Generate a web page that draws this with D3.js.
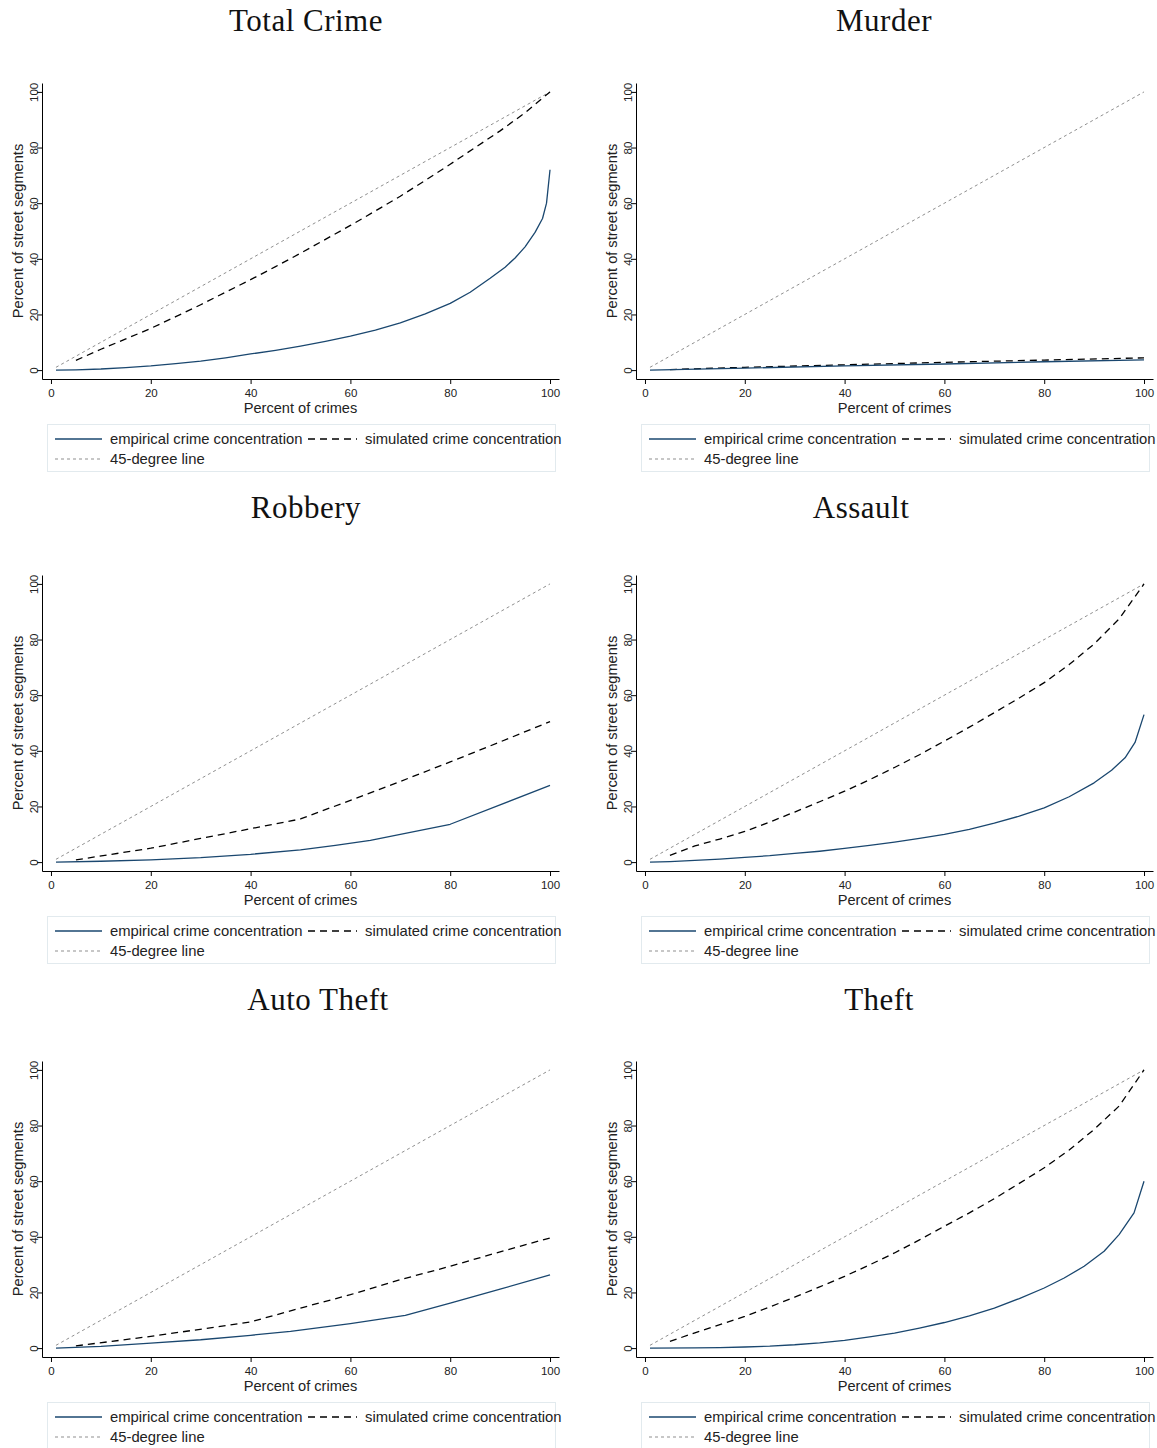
<!DOCTYPE html>
<html lang="en">
<head>
    <meta charset="UTF-8">
    <title>Crime concentration curves</title>
    <script src="https://d3js.org/d3.v7.min.js"></script>
    <style>
        body { margin: 0; background: #fff; }
        svg { display: block; }
        .axis text { font-family: "Liberation Sans", Arial, sans-serif; font-size: 11.5px; fill: #222; }
        .axis path, .axis line { stroke: #000; stroke-width: 1; }
        .axis-title { font-family: "Liberation Sans", Arial, sans-serif; font-size: 14.6px; fill: #222; }
        .panel-title { font-family: "Liberation Serif", "Times New Roman", serif; font-size: 31px; letter-spacing: 0.5px; fill: #111; }
        .legend-text { font-family: "Liberation Sans", Arial, sans-serif; font-size: 14.8px; fill: #222; }
    </style>
</head>
<body>
<div id="chart"></div>
<script>
    // panel titles
    const titles = ["Total Crime", "Murder", "Robbery", "Assault", "Auto Theft", "Theft"];
    const xTicks = [0, 20, 40, 60, 80, 100];
    const yTicks = [0, 20, 40, 60, 80, 100];

    // 45-degree reference line
    const degX = [1, 100];
    const degY = [1, 100];

    // Total Crime
    const totalEmpX = [1, 5, 10, 15, 20, 25, 30, 35, 40, 45, 50, 55, 60, 65, 70, 75, 80, 84, 88, 91, 93, 95, 97, 98.5, 99.3, 100];
    const totalEmpY = [0, 0.1, 0.4, 0.9, 1.5, 2.3, 3.2, 4.4, 5.8, 7.1, 8.6, 10.3, 12.2, 14.4, 17, 20.2, 24, 28, 33, 37, 40.3, 44.3, 49.5, 54.5, 60, 72];
    const totalSimX = [5, 10, 15, 20, 25, 30, 35, 40, 45, 50, 55, 60, 65, 70, 75, 80, 85, 90, 95, 100];
    const totalSimY = [3.5, 7.5, 11.2, 15, 19.2, 23.5, 28, 32.5, 37.2, 42, 47, 52, 57.2, 62.5, 68.2, 74, 80, 86, 92.5, 100];

    // Murder
    const murderEmpX = [1, 20, 40, 60, 80, 100];
    const murderEmpY = [0, 0.7, 1.5, 2.2, 3.0, 3.7];
    const murderSimX = [5, 20, 40, 60, 80, 100];
    const murderSimY = [0.2, 1.0, 1.9, 2.8, 3.6, 4.4];

    // Robbery
    const robberyEmpX = [1, 10, 20, 30, 40, 50, 57, 64, 80, 100];
    const robberyEmpY = [0, 0.3, 0.8, 1.6, 2.8, 4.4, 6, 7.8, 13.6, 27.6];
    const robberySimX = [5, 20, 30, 40, 50, 60, 70, 80, 90, 100];
    const robberySimY = [0.8, 5, 8.5, 12, 15.5, 22.2, 29, 36, 43.2, 50.5];

    // Assault
    const assaultEmpX = [1, 5, 10, 15, 20, 25, 30, 35, 40, 45, 50, 55, 60, 65, 70, 75, 80, 85, 90, 93.5, 96.2, 98.2, 100];
    const assaultEmpY = [0, 0.2, 0.6, 1.1, 1.7, 2.3, 3.1, 3.9, 4.9, 6, 7.2, 8.5, 10, 11.8, 14, 16.5, 19.5, 23.5, 28.5, 33, 37.5, 43, 53];
    const assaultSimX = [5, 10, 15, 20, 25, 30, 35, 40, 45, 50, 55, 60, 65, 70, 75, 80, 85, 90, 95, 100];
    const assaultSimY = [2.4, 5.8, 8.3, 11, 14.4, 18, 21.7, 25.5, 29.6, 34, 38.6, 43.5, 48.5, 53.7, 59, 64.5, 71, 78.4, 87.4, 100];

    // Auto Theft
    const autoEmpX = [1, 10, 20, 30, 40, 48, 60, 71, 80, 90, 100];
    const autoEmpY = [0, 0.6, 1.8, 3, 4.6, 6, 8.8, 11.8, 16.2, 21.2, 26.3];
    const autoSimX = [5, 20, 40, 50, 60, 70, 80, 90, 100];
    const autoSimY = [0.8, 4.2, 9.4, 14.4, 19.2, 24.6, 29.4, 34.6, 39.6];

    // Theft
    const theftEmpX = [1, 10, 15, 20, 25, 30, 35, 40, 45, 50, 55, 60, 65, 70, 75, 80, 84, 88, 92, 95, 98, 100];
    const theftEmpY = [0, 0.1, 0.2, 0.4, 0.7, 1.2, 1.9, 2.8, 4, 5.4, 7.2, 9.2, 11.6, 14.4, 17.8, 21.6, 25.2, 29.4, 34.8, 40.8, 48.6, 60];
    const theftSimX = [5, 10, 15, 20, 25, 30, 35, 40, 45, 50, 55, 60, 65, 70, 75, 80, 85, 90, 95, 100];
    const theftSimY = [2.4, 5.5, 8.4, 11.4, 14.8, 18.3, 22, 25.8, 29.9, 34.2, 38.9, 43.8, 48.6, 53.7, 59.2, 64.8, 71.2, 78.6, 87, 100];

    const zip = (xs, ys) => xs.map((x, i) => ({ x: x, y: ys[i] }));

    const panels = [
        { emp: zip(totalEmpX, totalEmpY), sim: zip(totalSimX, totalSimY) },
        { emp: zip(murderEmpX, murderEmpY), sim: zip(murderSimX, murderSimY) },
        { emp: zip(robberyEmpX, robberyEmpY), sim: zip(robberySimX, robberySimY) },
        { emp: zip(assaultEmpX, assaultEmpY), sim: zip(assaultSimX, assaultSimY) },
        { emp: zip(autoEmpX, autoEmpY), sim: zip(autoSimX, autoSimY) },
        { emp: zip(theftEmpX, theftEmpY), sim: zip(theftSimX, theftSimY) }
    ];

    // layout
    const W = 1157, H = 1448;
    const colX = [0, 594];
    const rowY = [0, 492, 978];
    const titleX = [306, 884, 306, 861, 318, 879];
    const titleY = [31, 31, 518, 518, 1010, 1010];
    const plot = { left: 42, top: 83, width: 517, height: 296 };

    const empColor = "#1a476f";

    const svg = d3.select("#chart").append("svg")
        .attr("width", W)
        .attr("height", H);

    const x = d3.scaleLinear().domain([-1.8, 101.8]).range([0, plot.width]);
    const y = d3.scaleLinear().domain([-3.2, 103.2]).range([plot.height, 0]);
    const line = d3.line().x(d => x(d.x)).y(d => y(d.y));

    panels.forEach((p, i) => {
        const col = i % 2, row = Math.floor(i / 2);
        const panel = svg.append("g")
            .attr("transform", `translate(${colX[col]},${rowY[row]})`);

        // title
        svg.append("text")
            .attr("class", "panel-title")
            .attr("x", titleX[i])
            .attr("y", titleY[i])
            .attr("text-anchor", "middle")
            .text(titles[i]);

        const g = panel.append("g")
            .attr("transform", `translate(${plot.left},${plot.top})`);

        // x axis
        const xAxis = g.append("g")
            .attr("class", "axis")
            .attr("transform", `translate(0,${plot.height})`)
            .call(d3.axisBottom(x).tickValues(xTicks).tickSize(5).tickSizeOuter(0).tickPadding(5));
        xAxis.attr("font-family", null).attr("font-size", null);

        // y axis with rotated labels
        const yAxis = g.append("g")
            .attr("class", "axis")
            .call(d3.axisLeft(y).tickValues(yTicks).tickSize(5).tickSizeOuter(0));
        yAxis.attr("font-family", null).attr("font-size", null);
        yAxis.selectAll(".tick text")
            .attr("x", 0)
            .attr("y", -4)
            .attr("dy", null)
            .attr("text-anchor", "middle")
            .attr("transform", "rotate(-90)");

        // axis titles
        g.append("text")
            .attr("class", "axis-title")
            .attr("x", x(50))
            .attr("y", plot.height + 34)
            .attr("text-anchor", "middle")
            .text("Percent of crimes");

        g.append("text")
            .attr("class", "axis-title")
            .attr("transform", `translate(-19.5,${plot.height / 2}) rotate(-90)`)
            .attr("text-anchor", "middle")
            .text("Percent of street segments");

        // lines
        g.append("path")
            .datum(zip(degX, degY))
            .attr("d", line)
            .attr("fill", "none")
            .attr("stroke", "#8f8f8f")
            .attr("stroke-width", 1)
            .attr("stroke-dasharray", "3,3");

        g.append("path")
            .datum(p.sim)
            .attr("d", line)
            .attr("fill", "none")
            .attr("stroke", "#000")
            .attr("stroke-width", 1.3)
            .attr("stroke-dasharray", "7,5");

        g.append("path")
            .datum(p.emp)
            .attr("d", line)
            .attr("fill", "none")
            .attr("stroke", empColor)
            .attr("stroke-width", 1.3)
            .attr("stroke-linejoin", "round");

        // legend
        const lg = panel.append("g");
        lg.append("rect")
            .attr("x", 47.5).attr("y", 424.5)
            .attr("width", 508).attr("height", 47)
            .attr("fill", "#fff")
            .attr("stroke", "#e2eaee");

        const items = [
            { x1: 55, x2: 102, y: 439, tx: 110, label: "empirical crime concentration", stroke: empColor, dash: null, w: 1.3 },
            { x1: 308, x2: 357, y: 439, tx: 365, label: "simulated crime concentration", stroke: "#000", dash: "7,5", w: 1.3 },
            { x1: 55, x2: 102, y: 459, tx: 110, label: "45-degree line", stroke: "#8f8f8f", dash: "3,3", w: 1 }
        ];
        items.forEach(it => {
            lg.append("line")
                .attr("x1", it.x1).attr("x2", it.x2)
                .attr("y1", it.y).attr("y2", it.y)
                .attr("stroke", it.stroke)
                .attr("stroke-width", it.w)
                .attr("stroke-dasharray", it.dash);
            lg.append("text")
                .attr("class", "legend-text")
                .attr("x", it.tx)
                .attr("y", it.y + 5)
                .text(it.label);
        });
    });
</script>
</body>
</html>
